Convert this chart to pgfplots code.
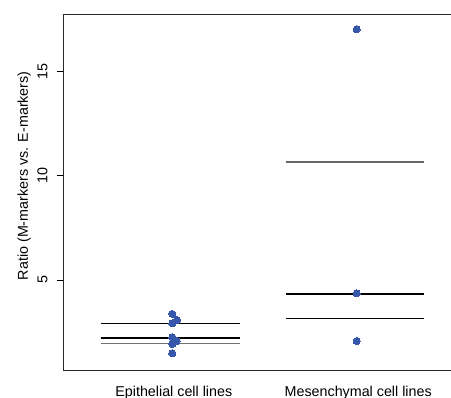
\documentclass[border=0pt]{standalone}
\usepackage{pgfplots}
\pgfplotsset{compat=1.18}
\usepackage{fontspec}
\setmainfont{Liberation Sans}
\definecolor{ptblue}{RGB}{55,88,170}
\begin{document}
\fontsize{14.3bp}{17bp}\selectfont
\begin{tikzpicture}
\begin{axis}[
  at={(63.3bp,28bp)}, anchor=south west,
  scale only axis,
  width=389.7bp, height=356bp,
  xmin=0.409, xmax=2.522,
  ymin=0.68, ymax=17.76,
  axis line style={line width=0.9bp, black!85},
  xtick={1,2},
  xticklabels={Epithelial cell lines, Mesenchymal cell lines},
  x tick style={draw=none},
  xticklabel style={anchor=base, yshift=-19.5bp, xshift=1.5bp},
  ytick={5,10,15},
  yticklabels={},
  ytick pos=left,
  tick align=outside,
  major tick length=6.7bp,
  y tick style={line width=0.8bp, black},
  tick label style={font=\fontsize{14.3bp}{17bp}\selectfont},
  clip=false,
]
% thin / thick summary lines
\addplot[black, line width=1bp] coordinates {(0.612,2.92) (1.367,2.92)};
\addplot[black, line width=2bp] coordinates {(0.612,2.20) (1.367,2.20)};
\addplot[black!55, line width=1.1bp] coordinates {(0.612,1.96) (1.367,1.96)};
\addplot[black!60, line width=1.1bp] coordinates {(1.615,10.66) (2.367,10.66)};
\addplot[black, line width=2bp] coordinates {(1.615,4.33) (2.367,4.33)};
\addplot[black, line width=1bp] coordinates {(1.615,3.16) (2.367,3.16)};
% points
\addplot[only marks, mark=*, mark size=3.6bp, color=ptblue, mark options={draw=ptblue, fill=ptblue, line width=0pt}] coordinates {
  (1.0,3.37) (1.025,3.08) (1.0,2.92) (1.0,2.25) (1.024,2.07) (1.0,1.93) (1.0,1.48)
  (2.0,17.03) (2.0,4.36) (2.0,2.07)
};
\node[rotate=90, anchor=base, inner sep=0pt] at ([xshift=-15.8bp]axis cs:0.409,5) {5};
\node[rotate=90, anchor=base, inner sep=0pt] at ([xshift=-15.8bp]axis cs:0.409,10) {10};
\node[rotate=90, anchor=base, inner sep=0pt] at ([xshift=-15.8bp]axis cs:0.409,15) {15};
\node[rotate=90, anchor=base, inner sep=0pt] at ([xshift=-35.3bp]axis cs:0.409,10) {Ratio (M-markers vs. E-markers)};
\end{axis}
\pgfresetboundingbox
\path (0,0) rectangle (451bp,398bp);
\end{tikzpicture}
\end{document}
